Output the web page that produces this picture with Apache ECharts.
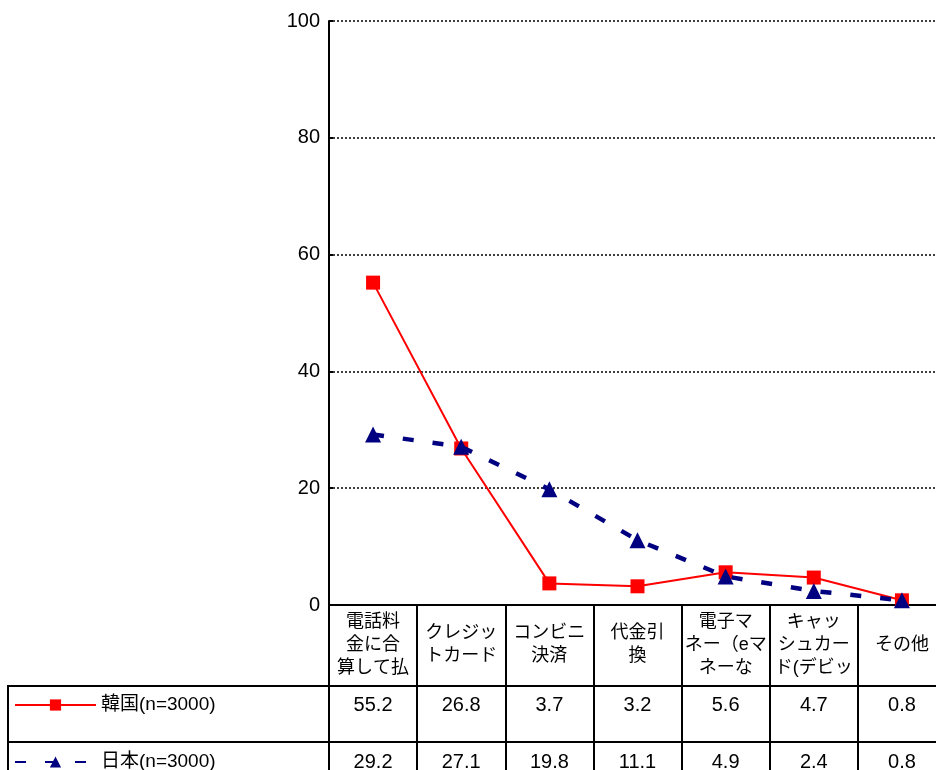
<!DOCTYPE html>
<html>
<head>
<meta charset="utf-8">
<script src="https://cdn.jsdelivr.net/npm/echarts@6/dist/echarts.min.js"></script>
<style>html,body{margin:0;padding:0;background:#fff}#c{width:936px;height:770px}</style>
</head>
<body>
<div id="c"></div>
<script>
const categories = ['電話料\n金に合\n算して払', 'クレジッ\nトカード', 'コンビニ\n決済', '代金引\n換', '電子マ\nネー（eマ\nネーな', 'キャッ\nシュカー\nド(デビッ', 'その他'];
const korea = [55.2, 26.8, 3.7, 3.2, 5.6, 4.7, 0.8];
const japan = [29.2, 27.1, 19.8, 11.1, 4.9, 2.4, 0.8];
const seriesNames = ['韓国(n=3000)', '日本(n=3000)'];
const yTicks = [0, 20, 40, 60, 80, 100];

const FONT = "'Liberation Sans', 'Noto Sans CJK JP', sans-serif";
const chart = echarts.init(document.getElementById('c'), null, {renderer: 'canvas'});
const fmt = v => v.toFixed(1);
const legendText = {fontFamily: FONT, fontSize: 19, color: '#000', lineHeight: 20};

chart.setOption({
  animation: false,
  backgroundColor: '#fff',
  textStyle: {fontFamily: FONT},
  grid: {left: 329, top: 21, bottom: 165, width: 617, outerBoundsMode: 'none', containLabel: false},
  legend: [
    {orient: 'vertical', left: 14, top: 695, padding: 0, itemWidth: 81, itemHeight: 14, itemGap: 0,
     textStyle: legendText, data: [seriesNames[0]]},
    {orient: 'vertical', left: 14, top: 752, padding: 0, itemWidth: 81, itemHeight: 14, itemGap: 0,
     textStyle: legendText, data: [seriesNames[1]]}
  ],
  xAxis: [
    {
      type: 'category', data: categories, boundaryGap: true,
      axisLine: {show: true, lineStyle: {color: '#000', width: 2}},
      axisTick: {show: true, interval: 0, length: 170, lineStyle: {color: '#000', width: 2}},
      axisLabel: {interval: 0, margin: 40, verticalAlign: 'middle', fontSize: 18, lineHeight: 23, color: '#000', fontFamily: FONT}
    },
    {
      type: 'category', data: korea.map(fmt), position: 'bottom', boundaryGap: true,
      axisLine: {show: false}, axisTick: {show: false},
      axisLabel: {interval: 0, margin: 100, verticalAlign: 'middle', fontSize: 20, color: '#000', fontFamily: FONT}
    },
    {
      type: 'category', data: japan.map(fmt), position: 'bottom', boundaryGap: true,
      axisLine: {show: false}, axisTick: {show: false},
      axisLabel: {interval: 0, margin: 157, verticalAlign: 'middle', fontSize: 20, color: '#000', fontFamily: FONT}
    }
  ],
  yAxis: {
    type: 'value', min: yTicks[0], max: yTicks[yTicks.length - 1], interval: 20,
    axisLine: {show: true, lineStyle: {color: '#000', width: 2}},
    axisTick: {show: true, inside: true, length: 4, lineStyle: {color: '#000', width: 2}},
    axisLabel: {margin: 9, fontSize: 20, color: '#000', fontFamily: FONT},
    splitLine: {show: true, lineStyle: {color: '#000', width: 1.5, type: [2, 2]}}
  },
  graphic: [
    {type: 'line', shape: {x1: 8, y1: 686, x2: 936, y2: 686}, style: {stroke: '#000', lineWidth: 2}, z: 10},
    {type: 'line', shape: {x1: 8, y1: 742, x2: 936, y2: 742}, style: {stroke: '#000', lineWidth: 2}, z: 10},
    {type: 'line', shape: {x1: 8, y1: 685, x2: 8, y2: 770}, style: {stroke: '#000', lineWidth: 2}, z: 10}
  ],
  series: [
    {
      name: seriesNames[0], type: 'line', data: korea,
      symbol: 'rect', symbolSize: 14,
      itemStyle: {color: '#FF0000'},
      lineStyle: {color: '#FF0000', width: 2},
      z: 3
    },
    {
      name: seriesNames[1], type: 'line', data: japan,
      symbol: 'triangle', symbolSize: 16,
      itemStyle: {color: '#000080'},
      lineStyle: {color: '#000080', width: 4.5, type: [11, 19]},
      z: 4
    }
  ]
});
</script>
</body>
</html>
